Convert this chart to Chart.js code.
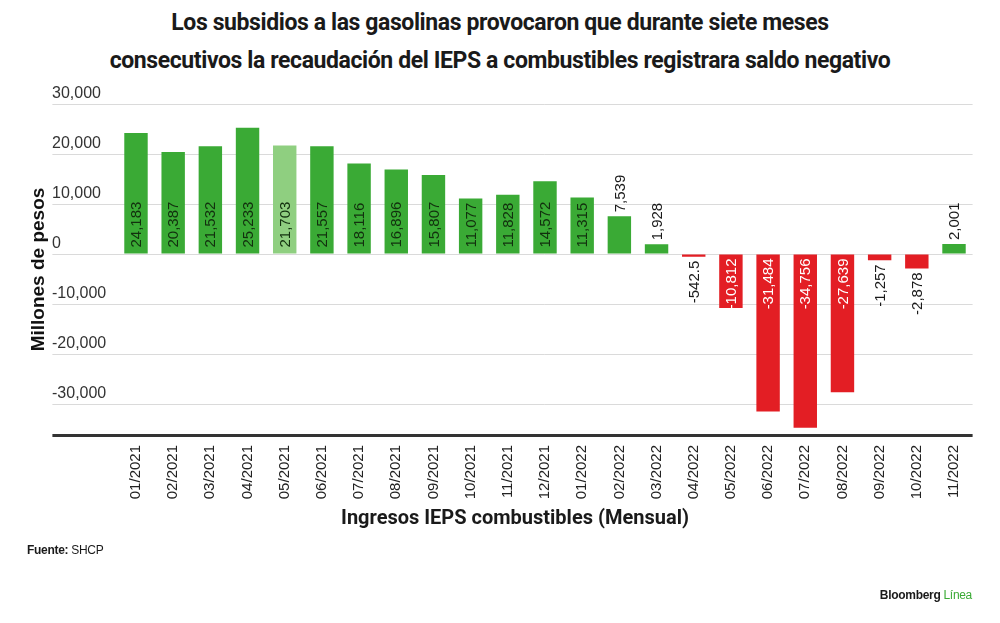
<!DOCTYPE html>
<html lang="es">
<head>
<meta charset="utf-8">
<title>Recaudación IEPS combustibles</title>
<script src="https://cdn.jsdelivr.net/npm/chart.js@4.4.0/dist/chart.umd.min.js"></script>
<style>
  body { margin: 0; background: #fff; width: 1000px; height: 623px; overflow: hidden; position: relative; font-family: 'Liberation Sans', Arial, sans-serif; color: #1a1a1a; }
  #wrap { position: absolute; left: 0; top: 0; width: 1000px; height: 623px; }
  h1 { position: absolute; top: 4px; left: 0; width: 1000px; margin: 0; text-align: center; font: 700 23px/38px Roboto, sans-serif; letter-spacing: -0.4px; color: #1a1a1a; }
  .fuente { position: absolute; left: 27px; top: 543px; font-size: 12px; letter-spacing: -0.3px; }
  .fuente b { font-weight: 700; }
  .logo { position: absolute; right: 28px; top: 588px; font-size: 12px; font-weight: 700; letter-spacing: -0.3px; }
  .logo span { color: #3aaa35; font-weight: 400; }
</style>
</head>
<body>
<h1>Los subsidios a las gasolinas provocaron que durante siete meses<br>consecutivos la recaudación del IEPS a combustibles registrara saldo negativo</h1>
<div id="wrap"><canvas id="ieps"></canvas></div>
<div class="fuente"><b>Fuente:</b> SHCP</div>
<div class="logo">Bloomberg <span>Línea</span></div>
<script>
// meses del periodo
const meses = ['01/2021', '02/2021', '03/2021', '04/2021', '05/2021', '06/2021', '07/2021', '08/2021', '09/2021', '10/2021', '11/2021', '12/2021',
  '01/2022', '02/2022', '03/2022', '04/2022', '05/2022', '06/2022', '07/2022', '08/2022', '09/2022', '10/2022', '11/2022'];
// ingresos IEPS combustibles, millones de pesos
const ingresos = [24183, 20387, 21532, 25233, 21703, 21557, 18116, 16896, 15807, 11077, 11828, 14572,
  11315, 7539, 1928, -542.5, -10812, -31484, -34756, -27639, -1257, -2878, 2001];
// marcas del eje y
const yTicks = [-30000, -20000, -10000, 0, 10000, 20000, 30000];

const Y_MIN = -36200;
const Y_MAX = 30000;
const VERDE = '#3aaa35';
const VERDE_CLARO = '#8fcf80';
const ROJO = '#e31e24';

Chart.defaults.font.family = "'Liberation Sans', Arial, sans-serif";

const fmt = (v) => v.toLocaleString('en-US');

// etiquetas de valor giradas sobre cada barra
const valueLabels = {
  id: 'valueLabels',
  afterDatasetsDraw(chart) {
    const ctx = chart.ctx;
    const meta = chart.getDatasetMeta(0);
    ctx.save();
    ctx.font = '15px "Liberation Sans", Arial, sans-serif';
    ctx.textBaseline = 'middle';
    meta.data.forEach((bar, i) => {
      const v = ingresos[i];
      const inside = Math.abs(v) >= 10000;
      let y;
      if (v >= 0) {
        y = inside ? bar.base - 6 : bar.y - 4;
        ctx.textAlign = 'left';
      } else {
        y = inside ? bar.base + 4 : bar.y + 4;
        ctx.textAlign = 'right';
      }
      ctx.fillStyle = inside ? (v >= 0 ? '#12300e' : '#ffffff') : '#1a1a1a';
      ctx.save();
      ctx.translate(bar.x, y);
      ctx.rotate(-Math.PI / 2);
      ctx.fillText(fmt(v), 0, 1);
      ctx.restore();
    });
    ctx.restore();
  }
};

new Chart('ieps', {
  type: 'bar',
  data: {
    labels: meses,
    datasets: [{
      data: ingresos,
      backgroundColor: (c) => (c.raw < 0 ? ROJO : (c.dataIndex === 4 ? VERDE_CLARO : VERDE)),
      barPercentage: 0.63,
      categoryPercentage: 1.0
    }]
  },
  options: {
    responsive: true,
    maintainAspectRatio: false,
    animation: false,
    layout: { padding: { top: 104, left: 57.4, right: 27.4, bottom: 92 } },
    plugins: {
      legend: { display: false },
      tooltip: { enabled: false },
      subtitle: {
        display: true,
        position: 'bottom',
        text: 'Ingresos IEPS combustibles (Mensual)',
        color: '#1a1a1a',
        font: { size: 20, weight: 'bold', family: 'Roboto, sans-serif' },
        padding: 0
      }
    },
    scales: {
      x: {
        afterFit: (s) => { s.height = 72; },
        grid: { display: false, drawTicks: false },
        border: { display: false },
        ticks: { minRotation: 90, maxRotation: 90, autoSkip: false, padding: 10, color: '#222', font: { size: 15 } }
      },
      y: {
        min: Y_MIN,
        max: Y_MAX,
        afterFit: (s) => { s.width = 60; },
        // la marca en Y_MIN hace de línea base oscura
        afterBuildTicks: (s) => { s.ticks = [Y_MIN, ...yTicks].map((v) => ({ value: v })); },
        border: { display: false },
        grid: {
          color: (c) => (c.tick && c.tick.value === Y_MIN ? '#333' : '#dadada'),
          lineWidth: (c) => (c.tick && c.tick.value === Y_MIN ? 3 : 1),
          tickLength: 65
        },
        ticks: {
          mirror: true,
          padding: -65.4,
          labelOffset: -10,
          color: '#333',
          font: { size: 16 },
          callback: (v) => (v === Y_MIN ? '' : fmt(v))
        },
        title: {
          display: true,
          text: 'Millones de pesos',
          color: '#111',
          font: { size: 19, weight: 'bold' },
          padding: { top: -29.8, bottom: 0 }
        }
      }
    }
  },
  plugins: [valueLabels]
});
</script>
</body>
</html>
